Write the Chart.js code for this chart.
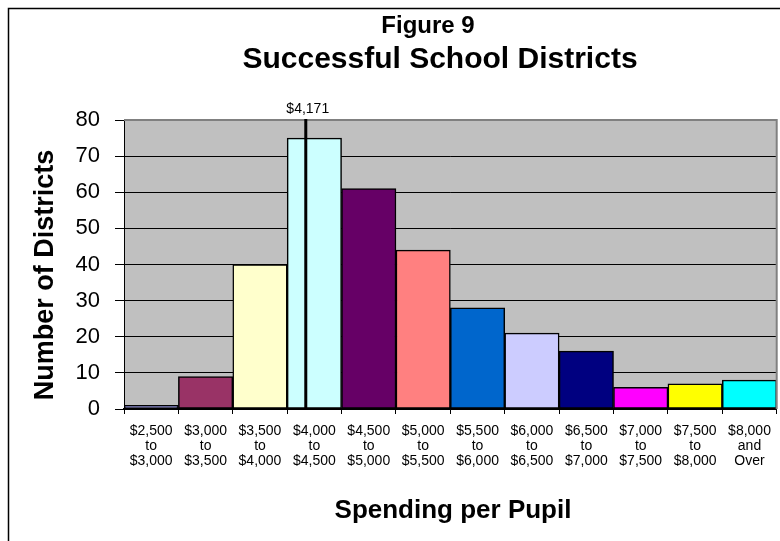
<!DOCTYPE html>
<html>
<head>
<meta charset="utf-8">
<title>Figure 9 - Successful School Districts</title>
<script src="https://cdn.jsdelivr.net/npm/chart.js@4"></script>
<style>
  html, body { margin: 0; padding: 0; background: #fff; }
  #wrap { width: 780px; height: 541px; }
</style>
</head>
<body>
<div id="wrap"><canvas id="chart" width="780" height="541"></canvas></div>
<script>
// spending brackets (per pupil) and how many successful districts fall in each
const categories = [
  ['$2,500', 'to', '$3,000'],
  ['$3,000', 'to', '$3,500'],
  ['$3,500', 'to', '$4,000'],
  ['$4,000', 'to', '$4,500'],
  ['$4,500', 'to', '$5,000'],
  ['$5,000', 'to', '$5,500'],
  ['$5,500', 'to', '$6,000'],
  ['$6,000', 'to', '$6,500'],
  ['$6,500', 'to', '$7,000'],
  ['$7,000', 'to', '$7,500'],
  ['$7,500', 'to', '$8,000'],
  ['$8,000', 'and', 'Over']
];
const bracketStarts = [2500, 3000, 3500, 4000, 4500, 5000, 5500, 6000, 6500, 7000, 7500, 8000];
const bracketWidth = 500;
const districts = [1, 9, 40, 75, 61, 44, 28, 21, 16, 6, 7, 8];
const barColors = [
  '#9999FF', '#993366', '#FFFFCC', '#CCFFFF', '#660066', '#FF8080',
  '#0066CC', '#CCCCFF', '#000080', '#FF00FF', '#FFFF00', '#00FFFF'
];
const markerValue = 4171;
const markerLabel = '$4,171';

const FONT = '"Liberation Sans", Arial, Helvetica, sans-serif';

// grey plot area, outer frame, titles and the spending marker
const decorations = {
  id: 'decorations',
  beforeDraw(chart) {
    const { ctx, chartArea: a } = chart;
    ctx.save();
    ctx.fillStyle = '#fff';
    ctx.fillRect(0, 0, chart.width, chart.height);
    ctx.strokeStyle = '#000';
    ctx.lineWidth = 1.5;
    ctx.strokeRect(8.5, 8.5, 2000, 2000);
    ctx.fillStyle = '#C0C0C0';
    ctx.fillRect(a.left, a.top, a.right - a.left, a.bottom - a.top);
    ctx.restore();
  },
  afterDatasetsDraw(chart) {
    const { ctx, chartArea: a } = chart;
    ctx.save();
    ctx.strokeStyle = '#808080';
    ctx.lineWidth = 2;
    ctx.beginPath();
    ctx.moveTo(a.left, a.top);
    ctx.lineTo(a.right, a.top);
    ctx.lineTo(a.right, a.bottom);
    ctx.stroke();
    ctx.restore();
  },
  afterDraw(chart) {
    const { ctx, chartArea: a } = chart;
    const x = chart.scales.x;

    // vertical line at the average spending value
    let i = bracketStarts.length - 1;
    while (i > 0 && bracketStarts[i] > markerValue) i--;
    const w = x.getPixelForValue(1) - x.getPixelForValue(0);
    const left = x.getPixelForValue(i) - w / 2;
    const mx = left + w * (markerValue - bracketStarts[i]) / bracketWidth;

    ctx.save();
    ctx.strokeStyle = '#000';
    ctx.lineWidth = 3;
    ctx.beginPath();
    ctx.moveTo(mx, a.top - 1);
    ctx.lineTo(mx, a.bottom);
    ctx.stroke();

    ctx.fillStyle = '#000';
    ctx.textAlign = 'center';
    ctx.textBaseline = 'alphabetic';
    ctx.font = '14px ' + FONT;
    ctx.fillText(markerLabel, mx + 2, 113);

    // titles
    ctx.font = 'bold 24px ' + FONT;
    ctx.fillText('Figure 9', 428, 33);
    ctx.font = 'bold 30px ' + FONT;
    ctx.fillText('Successful School Districts', 440, 68);
    ctx.font = 'bold 26px ' + FONT;
    ctx.fillText('Spending per Pupil', 453, 518);

    ctx.translate(53, 275);
    ctx.rotate(-Math.PI / 2);
    ctx.font = 'bold 27px ' + FONT;
    ctx.fillText('Number of Districts', 0, 0);
    ctx.restore();
  }
};

new Chart(document.getElementById('chart'), {
  type: 'bar',
  data: {
    labels: categories,
    datasets: [{
      label: 'Number of Districts',
      data: districts,
      backgroundColor: barColors,
      borderColor: '#000',
      borderWidth: 1.5,
      borderSkipped: false,
      barPercentage: 1,
      categoryPercentage: 1
    }]
  },
  options: {
    responsive: false,
    animation: false,
    devicePixelRatio: 1,
    layout: { padding: { left: 0, top: 120, right: 2, bottom: 0 } },
    plugins: {
      legend: { display: false },
      title: { display: false },
      tooltip: { enabled: false }
    },
    scales: {
      x: {
        afterFit(scale) { scale.height = 132; },
        grid: {
          drawOnChartArea: false,
          drawTicks: true,
          tickLength: 5,
          color: '#000',
          lineWidth: 1
        },
        border: { display: true, color: '#000', width: 1.5 },
        ticks: {
          color: '#000',
          padding: 9,
          maxRotation: 0,
          autoSkip: false,
          font: { family: FONT, size: 14, lineHeight: 1.1 }
        }
      },
      y: {
        min: 0,
        max: 80,
        afterFit(scale) { scale.width = 124; },
        grid: {
          color: '#000',
          lineWidth: 1,
          drawTicks: true,
          tickLength: 9
        },
        border: { display: true, color: '#000', width: 1 },
        ticks: {
          stepSize: 10,
          color: '#000',
          padding: 15,
          font: { family: FONT, size: 22 }
        }
      }
    }
  },
  plugins: [decorations]
});
</script>
</body>
</html>
